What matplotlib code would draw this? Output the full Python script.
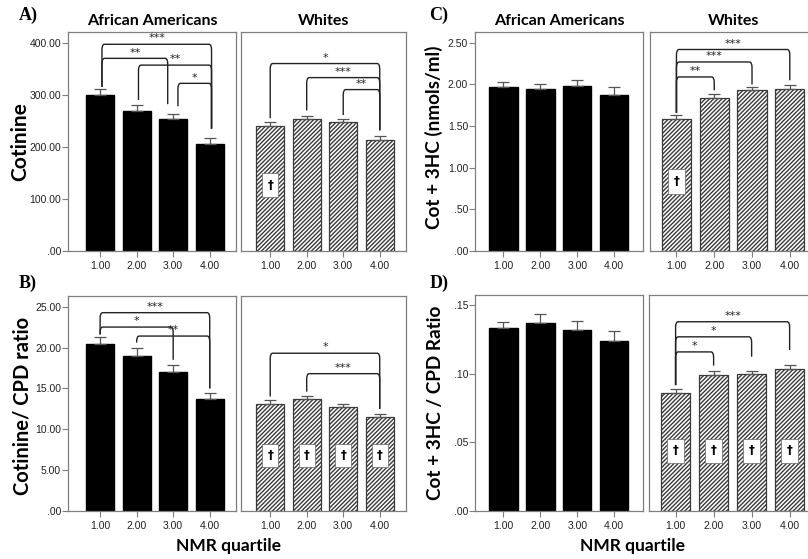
import matplotlib
matplotlib.use('Agg')
import matplotlib.pyplot as plt
from matplotlib.patches import Rectangle
from matplotlib.path import Path
from matplotlib.patches import PathPatch

# ---- data ----
quartiles = [1, 2, 3, 4]
tick_labels = ['1.00', '2.00', '3.00', '4.00']

cot_aa = [300, 269, 253, 205]
cot_aa_err = [311, 280, 263, 217]
cot_wh = [240, 253, 247, 214]
cot_wh_err = [247, 259, 253, 220]

ratio_aa = [20.4, 19.0, 16.95, 13.7]
ratio_aa_err = [21.3, 20.0, 17.8, 14.46]
ratio_wh = [13.1, 13.64, 12.7, 11.48]
ratio_wh_err = [13.56, 14.1, 13.03, 11.85]

c3hc_aa = [1.964, 1.94, 1.976, 1.875]
c3hc_aa_err = [2.03, 2.01, 2.055, 1.97]
c3hc_wh = [1.59, 1.84, 1.935, 1.94]
c3hc_wh_err = [1.63, 1.88, 1.975, 1.99]

c3hc_ratio_aa = [0.1334, 0.1368, 0.132, 0.1242]
c3hc_ratio_aa_err = [0.138, 0.1439, 0.1383, 0.131]
c3hc_ratio_wh = [0.0864, 0.0991, 0.0996, 0.1037]
c3hc_ratio_wh_err = [0.0891, 0.1023, 0.1023, 0.1066]

# significance brackets: (x_left, x_right, level, left_bottom, right_bottom, stars)
br_a_aa = [(1.05, 4.05, 397, 315, 235, '***'), (1.05, 2.85, 370, 315, 282, '**'),
           (2.05, 4.05, 357, 290, 235, '**'), (3.13, 4.05, 322, 278, 235, '*')]
br_a_wh = [(1.0, 4.0, 360, 255, 232, '*'), (2.0, 4.0, 333, 270, 232, '***'),
           (3.0, 4.0, 310, 261, 232, '**')]
br_b_aa = [(1.0, 4.0, 24.26, 21.6, 15.0, '***'), (1.0, 3.0, 22.5, 21.6, 18.5, '*'),
           (2.0, 4.0, 21.4, 20.6, 15.0, '**')]
br_b_wh = [(1.0, 4.0, 19.3, 14.0, 12.5, '*'), (2.0, 4.0, 16.8, 14.6, 12.5, '***')]
br_c_wh = [(1.0, 4.0, 2.42, 1.66, 2.05, '***'), (1.0, 3.0, 2.27, 1.66, 2.0, '***'),
           (1.0, 2.0, 2.09, 1.66, 1.93, '**')]
br_d_wh = [(1.0, 4.0, 0.138, 0.0918, 0.1174, '***'), (1.0, 3.0, 0.127, 0.0918, 0.1125, '*'),
           (1.0, 2.0, 0.116, 0.0918, 0.106, '*')]

# dagger boxes (value range) for Whites bars
dag_a = {1: (103, 150)}
dag_b = {1: (5.4, 8.25), 2: (5.4, 8.25), 3: (5.4, 8.25), 4: (5.4, 8.25)}
dag_c = {1: (0.68, 0.98)}
dag_d = {1: (0.035, 0.0528), 2: (0.035, 0.0528), 3: (0.035, 0.0528), 4: (0.035, 0.0528)}

W, H = 808, 559
plt.rcParams['hatch.linewidth'] = 1.0
fig = plt.figure(figsize=(W / 100, H / 100), dpi=100)
FRAME = '#7f7f7f'
TICKFONT = 'Liberation Sans'


def make_ax(l, t, r, b):
    return fig.add_axes([l / W, 1 - b / H, (r - l) / W, (b - t) / H])


def fmt(v, nd):
    s = f'{v:.{nd}f}'
    return s[1:] if s.startswith('0') else s


def style(ax, xlim, ylim, yticks, nd, show_y):
    ax.set_xlim(*xlim)
    ax.set_ylim(*ylim)
    for sp in ax.spines.values():
        sp.set_color(FRAME)
        sp.set_linewidth(0.9)
    ax.set_xticks(quartiles)
    ax.set_xticklabels(tick_labels, fontsize=7.5, family=TICKFONT, color='#222')
    ax.tick_params(axis='x', length=4, color=FRAME, pad=3)
    if show_y:
        ax.set_yticks(yticks)
        ax.set_yticklabels([fmt(v, nd) for v in yticks], fontsize=7.5,
                           family=TICKFONT, color='#222')
        ax.tick_params(axis='y', length=4, color=FRAME, pad=1)
    else:
        ax.set_yticks([])


def bars(ax, vals, errs, hatched):
    if hatched:
        ax.bar(quartiles, vals, width=0.77, color='white', edgecolor='#3a3a3a',
               hatch='////////', linewidth=0.9, zorder=2)
    else:
        ax.bar(quartiles, vals, width=0.77, color='black', edgecolor='black', zorder=2)
    up = [e - v for v, e in zip(vals, errs)]
    ax.errorbar(quartiles, vals, yerr=[[0] * 4, up], fmt='none', ecolor='#555',
                elinewidth=0.9, capsize=4.5, capthick=0.9, zorder=3)


def brackets(ax, items, ylim):
    r = (ylim[1] - ylim[0]) * 0.025
    for x1, x2, lev, b1, b2, lab in items:
        dx = 0.07
        verts = [(x1, b1), (x1, lev - r), (x1, lev), (x1 + dx, lev),
                 (x2 - dx, lev), (x2, lev), (x2, lev - r), (x2, b2)]
        codes = [Path.MOVETO, Path.LINETO, Path.CURVE3, Path.CURVE3,
                 Path.LINETO, Path.CURVE3, Path.CURVE3, Path.LINETO]
        ax.add_patch(PathPatch(Path(verts, codes), fill=False, lw=1.0,
                               edgecolor='#222', zorder=4))
        ax.text((x1 + x2) / 2, lev + r * 0.15, lab, ha='center', va='bottom',
                fontsize=8, color='#222', zorder=4)


def daggers(ax, boxes):
    for q, (lo, hi) in boxes.items():
        ax.add_patch(Rectangle((q - 0.22, lo), 0.44, hi - lo, facecolor='white',
                               edgecolor='#666', lw=0.5, zorder=3))
        ax.text(q, (lo + hi) / 2, '\u2020', ha='center', va='center',
                fontsize=8.5, fontweight='bold', family='DejaVu Sans', zorder=4)


title_font = dict(family='Lato', fontsize=11.5, fontweight='bold')
letter_font = dict(family='Liberation Serif', fontsize=13, fontweight='bold')

panels = [
    dict(aa=(68, 32, 236, 251), wh=(241, 32, 406, 251), axl=(0.12, 4.72), wxl=(0.2, 4.72),
         ylim=(0, 420.6), yt=[0, 100, 200, 300, 400], nd=2,
         v=(cot_aa, cot_aa_err, cot_wh, cot_wh_err), br=(br_a_aa, br_a_wh), dg=dag_a,
         yl='Cotinine', fs=15, lx=-0.225, ly=0.5, title=True, letter=('A)', 28, 15)),
    dict(aa=(68, 296, 236, 511), wh=(241, 296, 406, 511), axl=(0.12, 4.72), wxl=(0.2, 4.72),
         ylim=(0, 26.3), yt=[0, 5, 10, 15, 20, 25], nd=2,
         v=(ratio_aa, ratio_aa_err, ratio_wh, ratio_wh_err), br=(br_b_aa, br_b_wh), dg=dag_b,
         yl='Cotinine/ CPD ratio', fs=14.5, lx=-0.21, ly=0.49, title=False, letter=('B)', 28, 283)),
    dict(aa=(475, 32, 643, 251), wh=(650, 32, 817, 251), axl=(0.23, 4.78), wxl=(0.3, 4.72),
         ylim=(0, 2.63), yt=[0, 0.5, 1.0, 1.5, 2.0, 2.5], nd=2,
         v=(c3hc_aa, c3hc_aa_err, c3hc_wh, c3hc_wh_err), br=(None, br_c_wh), dg=dag_c,
         yl='Cot + 3HC (nmols/ml)', fs=13.6, lx=-0.19, ly=0.52, title=True, letter=('C)', 439, 15)),
    dict(aa=(475, 295, 643, 511), wh=(649, 295, 817, 511), axl=(0.23, 4.78), wxl=(0.3, 4.72),
         ylim=(0, 0.1575), yt=[0, 0.05, 0.10, 0.15], nd=2,
         v=(c3hc_ratio_aa, c3hc_ratio_aa_err, c3hc_ratio_wh, c3hc_ratio_wh_err),
         br=(None, br_d_wh), dg=dag_d,
         yl='Cot + 3HC / CPD Ratio', fs=13.6, lx=-0.185, ly=0.5, title=False, letter=('D)', 439, 283)),
]

for p in panels:
    ax1 = make_ax(*p['aa'])
    ax2 = make_ax(*p['wh'])
    va, ea, vw, ew = p['v']
    bars(ax1, va, ea, False)
    bars(ax2, vw, ew, True)
    style(ax1, p['axl'], p['ylim'], p['yt'], p['nd'], True)
    style(ax2, p['wxl'], p['ylim'], p['yt'], p['nd'], False)
    if p['br'][0]:
        brackets(ax1, p['br'][0], p['ylim'])
    if p['br'][1]:
        brackets(ax2, p['br'][1], p['ylim'])
    daggers(ax2, p['dg'])
    ax1.set_ylabel(p['yl'], family='Lato', fontsize=p['fs'], fontweight='bold')
    ax1.yaxis.set_label_coords(p['lx'], p['ly'])
    if p['title']:
        ax1.set_title('African Americans', pad=5, **title_font)
        ax2.set_title('Whites', pad=5, **title_font)
    else:
        cx = 229 if p['aa'][0] < 400 else 632
        fig.text(cx / W, 1 - 546 / H, 'NMR quartile', ha='center', va='center',
                 family='Lato', fontsize=12.5, fontweight='bold')
    t, x, y = p['letter']
    fig.text(x / W, 1 - y / H, t, ha='center', va='center', **letter_font)

fig.savefig('out.png', dpi=100)
